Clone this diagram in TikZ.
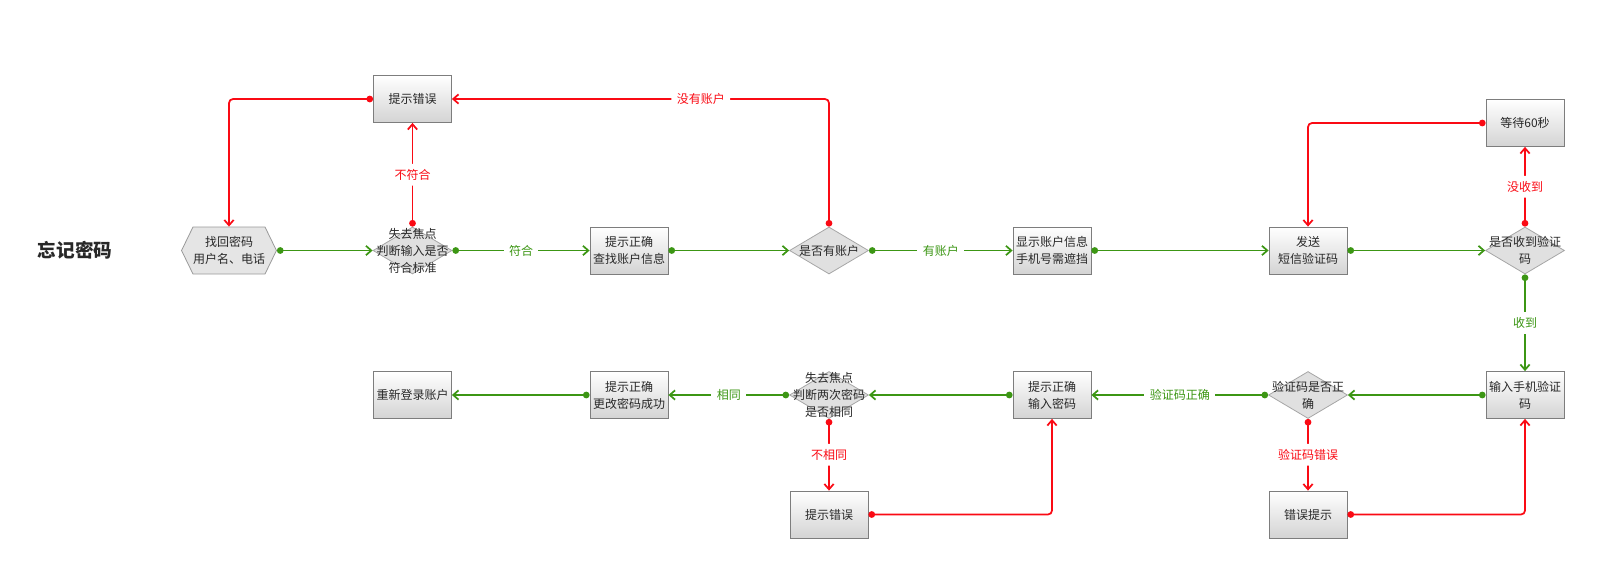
\documentclass[tikz,border=0pt]{standalone}
\usepackage{fontspec}
\setmainfont{Noto Sans CJK SC}
\usepackage{xcolor}
\usetikzlibrary{shapes.geometric,shapes.symbols,arrows.meta}

\definecolor{okgreen}{RGB}{60,150,20}
\definecolor{errred}{RGB}{250,10,20}
\definecolor{boxline}{RGB}{125,125,125}
\definecolor{txtgray}{RGB}{40,40,40}

\begin{document}
\begin{tikzpicture}[x=0.75pt,y=0.75pt,yscale=-1,xscale=1,
  every node/.style={font=\fontsize{9}{12.75}\selectfont,text=txtgray,align=center},
  stepbox/.style={rectangle,draw=boxline,top color=white,bottom color=black!17,minimum width=58.5pt,minimum height=35.25pt,inner sep=1pt,line width=0.6pt},
  startbox/.style={signal,signal to=west and east,signal pointer angle=128,draw=black!40,fill=black!10,minimum width=59.25pt,minimum height=35.25pt,inner sep=0pt,line width=0.6pt},
  decide/.style={diamond,draw=black!35,fill=black!12,minimum width=59.25pt,minimum height=35.25pt,inner sep=0pt,line width=0.6pt},
  okline/.style={draw=okgreen,line width=1.3pt,{Circle[length=5pt]}-{Straight Barb[length=4pt,width=7pt]}},
  errline/.style={draw=errred,line width=1.3pt,rounded corners=3pt,{Circle[length=5pt]}-{Straight Barb[length=4pt,width=7pt]}},
  oklabel/.style={fill=white,text=okgreen,inner sep=4pt},
  errlabel/.style={fill=white,text=errred,inner sep=4pt}
]
\useasboundingbox (0,0) rectangle (1603,575);

% Title
\node[font=\fontsize{14}{16}\selectfont\bfseries] (title) at (75,250) {忘记密码};

%Shape: first row
\node[startbox] (start) at (229,250.5) {找回密码\\用户名、电话};
\node[decide] (chkinput) at (412.5,250.5) {};
\node (chkinputt) at (chkinput) {失去焦点\\判断输入是否\\符合标准};
\node[stepbox] (errtop) at (412.5,99) {提示错误};
\node[stepbox] (findacc) at (629,250.5) {提示正确\\查找账户信息};
\node[decide] (hasacc) at (829,250.5) {};
\node (hasacct) at (hasacc) {是否有账户};
\node[stepbox] (showacc) at (1052,250.5) {显示账户信息\\手机号需遮挡};
\node[stepbox] (sendsms) at (1308,250.5) {发送\\短信验证码};
\node[decide] (gotsms) at (1525,250.5) {};
\node (gotsmst) at (gotsms) {是否收到验证\\码};
\node[stepbox] (wait) at (1525,123) {等待60秒};

%Shape: second row
\node[stepbox] (inputcode) at (1525,395) {输入手机验证\\码};
\node[decide] (chkcode) at (1308,395) {};
\node (chkcodet) at (chkcode) {验证码是否正\\确};
\node[stepbox] (codeerr) at (1308,514.5) {错误提示};
\node[stepbox] (inputpwd) at (1052,395) {提示正确\\输入密码};
\node[decide] (chkpwd) at (829,395) {};
\node (chkpwdt) at (chkpwd) {失去焦点\\判断两次密码\\是否相同};
\node[stepbox] (pwderr) at (829,514.5) {提示错误};
\node[stepbox] (pwdok) at (629,395) {提示正确\\更改密码成功};
\node[stepbox] (relogin) at (412.5,395) {重新登录账户};

%Straight Lines
\draw[okline] (start.east) -- (chkinput.west);
\draw[okline] (chkinput.east) -- node[oklabel] {符合} (findacc.west);
\draw[errline] (chkinput.north) -- node[errlabel] {不符合} (errtop.south);
\draw[errline] (errtop.west) -| (start.north);
\draw[okline] (findacc.east) -- (hasacc.west);
\draw[errline] (hasacc.north) |- node[errlabel,pos=0.67] {没有账户} (errtop.east);
\draw[okline] (hasacc.east) -- node[oklabel] {有账户} (showacc.west);
\draw[okline] (showacc.east) -- (sendsms.west);
\draw[okline] (sendsms.east) -- (gotsms.west);
\draw[errline] (gotsms.north) -- node[errlabel] {没收到} (wait.south);
\draw[errline] (wait.west) -| (sendsms.north);
\draw[okline] (gotsms.south) -- node[oklabel] {收到} (inputcode.north);
\draw[okline] (inputcode.west) -- (chkcode.east);
\draw[okline] (chkcode.west) -- node[oklabel] {验证码正确} (inputpwd.east);
\draw[errline] (chkcode.south) -- node[errlabel] {验证码错误} (codeerr.north);
\draw[errline] (codeerr.east) -| (inputcode.south);
\draw[okline] (inputpwd.west) -- (chkpwd.east);
\draw[okline] (chkpwd.west) -- node[oklabel] {相同} (pwdok.east);
\draw[errline] (chkpwd.south) -- node[errlabel] {不相同} (pwderr.north);
\draw[errline] (pwderr.east) -| (inputpwd.south);
\draw[okline] (pwdok.west) -- (relogin.east);

\end{tikzpicture}
\end{document}
